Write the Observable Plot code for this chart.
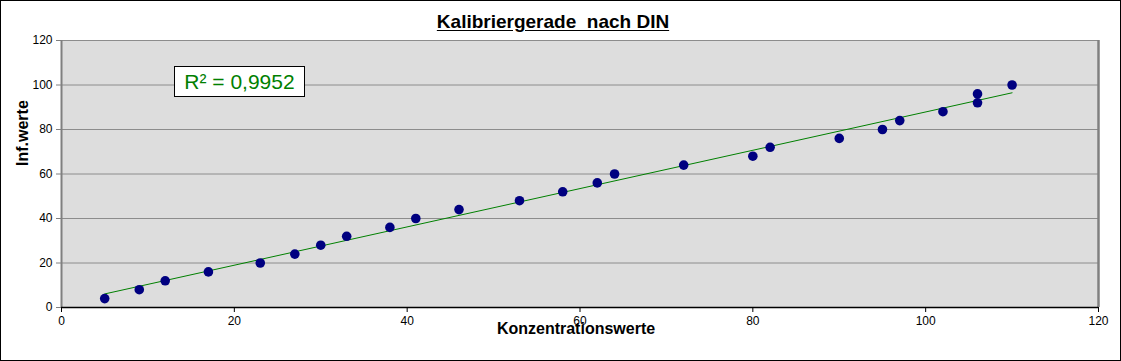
<!DOCTYPE html>
<html>
<head>
<meta charset="utf-8">
<script src="https://cdn.jsdelivr.net/npm/d3@7"></script>
<script src="https://cdn.jsdelivr.net/npm/@observablehq/plot@0.6"></script>
<style>
  html, body { margin: 0; padding: 0; background: #fff; }
  #chart { position: relative; width: 1121px; height: 361px; box-sizing: border-box; border: 1px solid #000; background: #fff; font-family: "Liberation Sans", Arial, sans-serif; overflow: hidden; }
  #title { position: absolute; left: 0; top: 10px; width: 1104px; text-align: center; font-weight: bold; font-size: 19px; text-decoration: underline; text-underline-offset: 2px; color: #000; white-space: pre; }
  #r2 { position: absolute; left: 173px; top: 65px; width: 131px; height: 31px; box-sizing: border-box; border: 1px solid #000; background: #fff; color: #008000; font-size: 21px; line-height: 29px; text-align: center; }
  #plot { position: absolute; left: 0; top: 33px; }
</style>
</head>
<body>
<div id="chart">
  <div id="title">Kalibriergerade  nach DIN</div>
  <div id="plot"></div>
  <div id="r2">R² = 0,9952</div>
</div>
<script>
const konzentration = [5, 9, 12, 17, 23, 27, 30, 33, 38, 41, 46, 53, 58, 62, 64, 72, 80, 82, 90, 95, 97, 102, 106, 106, 110];
const infWerte = [4, 8, 12, 16, 20, 24, 28, 32, 36, 40, 44, 48, 52, 56, 60, 64, 68, 72, 76, 80, 84, 88, 92, 96, 100];
const xTicks = [0, 20, 40, 60, 80, 100, 120];
const yTicks = [0, 20, 40, 60, 80, 100, 120];
const xLabel = "Konzentrationswerte";
const yLabel = "Inf.werte";

const data = konzentration.map((x, i) => ({x, y: infWerte[i]}));

const plot = Plot.plot({
  width: 1119,
  height: 326,
  marginLeft: 60,
  marginRight: 22,
  marginTop: 6,
  marginBottom: 53,
  style: {fontFamily: "'Liberation Sans', Arial, sans-serif", fontSize: "12px", color: "#000", background: "transparent", overflow: "visible"},
  x: {domain: [0, 120], ticks: xTicks},
  y: {domain: [0, 120], ticks: yTicks},
  marks: [
    Plot.frame({fill: "#dddddd", stroke: null}),
    Plot.gridY(yTicks.filter(d => d > 0), {stroke: "#8c8c8c", strokeOpacity: 1, strokeWidth: 1}),
    Plot.ruleX([120], {stroke: "#808080", strokeWidth: 2.5}),
    Plot.ruleX([0], {stroke: "#808080", strokeWidth: 2}),
    Plot.axisY({ticks: yTicks, tickSize: 5, tickPadding: 4, label: null, fontSize: 12, stroke: "#808080"}),
    Plot.axisX({ticks: xTicks, tickSize: 5, tickPadding: 4, label: null, fontSize: 12}),
    Plot.ruleY([0], {stroke: "#000", strokeWidth: 1.5}),
    Plot.linearRegressionY(data, {x: "x", y: "y", ci: 0, stroke: "#008000", strokeWidth: 1}),
    Plot.dot(data, {x: "x", y: "y", r: 4.8, fill: "#000080", stroke: null}),
    Plot.text([yLabel], {frameAnchor: "left", dx: -39, dy: -8, rotate: -90, text: d => d, fontSize: 16, fontWeight: "bold", fill: "#000"}),
    Plot.text([xLabel], {frameAnchor: "bottom", dx: -4, dy: 26, text: d => d, fontSize: 16, fontWeight: "bold", fill: "#000"})
  ]
});
document.getElementById("plot").appendChild(plot);
</script>
</body>
</html>
